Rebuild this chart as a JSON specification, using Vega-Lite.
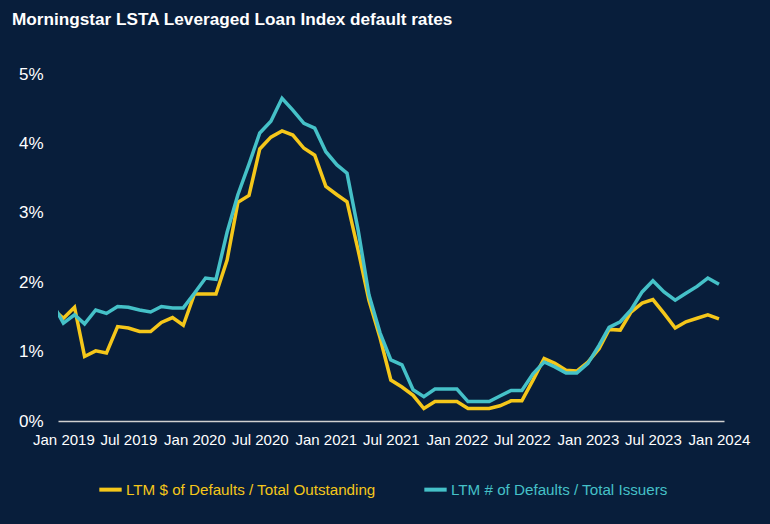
{
  "$schema": "https://vega.github.io/schema/vega-lite/v6.json",
  "width": 666,
  "height": 347,
  "autosize": {"type": "none"},
  "padding": {"left": 58, "top": 74, "right": 46, "bottom": 103},
  "background": "#081e3b",
  "title": {
    "text": "Morningstar LSTA Leveraged Loan Index default rates",
    "anchor": "start",
    "frame": "group",
    "orient": "top",
    "dx": -46,
    "offset": 37,
    "color": "#ffffff",
    "fontSize": 17.2,
    "fontWeight": "bold",
    "font": "Liberation Sans, Arial, sans-serif"
  },
  "config": {
    "view": {"stroke": null},
    "font": "Liberation Sans, Arial, sans-serif"
  },
  "data": {
    "values": [
      {"date": "2018-12-01", "dollar": 1.62, "issuer": 1.70},
      {"date": "2019-01-01", "dollar": 1.48, "issuer": 1.41},
      {"date": "2019-02-01", "dollar": 1.64, "issuer": 1.53},
      {"date": "2019-03-01", "dollar": 0.93, "issuer": 1.40},
      {"date": "2019-04-01", "dollar": 1.01, "issuer": 1.60},
      {"date": "2019-05-01", "dollar": 0.98, "issuer": 1.55},
      {"date": "2019-06-01", "dollar": 1.36, "issuer": 1.65},
      {"date": "2019-07-01", "dollar": 1.34, "issuer": 1.64},
      {"date": "2019-08-01", "dollar": 1.29, "issuer": 1.60},
      {"date": "2019-09-01", "dollar": 1.29, "issuer": 1.57},
      {"date": "2019-10-01", "dollar": 1.42, "issuer": 1.65},
      {"date": "2019-11-01", "dollar": 1.49, "issuer": 1.63},
      {"date": "2019-12-01", "dollar": 1.38, "issuer": 1.63},
      {"date": "2020-01-01", "dollar": 1.83, "issuer": 1.84},
      {"date": "2020-02-01", "dollar": 1.83, "issuer": 2.06},
      {"date": "2020-03-01", "dollar": 1.83, "issuer": 2.04},
      {"date": "2020-04-01", "dollar": 2.32, "issuer": 2.72},
      {"date": "2020-05-01", "dollar": 3.15, "issuer": 3.26},
      {"date": "2020-06-01", "dollar": 3.25, "issuer": 3.70},
      {"date": "2020-07-01", "dollar": 3.92, "issuer": 4.15},
      {"date": "2020-08-01", "dollar": 4.09, "issuer": 4.32},
      {"date": "2020-09-01", "dollar": 4.18, "issuer": 4.65},
      {"date": "2020-10-01", "dollar": 4.12, "issuer": 4.48},
      {"date": "2020-11-01", "dollar": 3.93, "issuer": 4.29},
      {"date": "2020-12-01", "dollar": 3.83, "issuer": 4.22},
      {"date": "2021-01-01", "dollar": 3.38, "issuer": 3.88},
      {"date": "2021-02-01", "dollar": 3.26, "issuer": 3.69},
      {"date": "2021-03-01", "dollar": 3.16, "issuer": 3.57},
      {"date": "2021-04-01", "dollar": 2.46, "issuer": 2.75},
      {"date": "2021-05-01", "dollar": 1.74, "issuer": 1.82},
      {"date": "2021-06-01", "dollar": 1.20, "issuer": 1.27},
      {"date": "2021-07-01", "dollar": 0.59, "issuer": 0.88},
      {"date": "2021-08-01", "dollar": 0.49, "issuer": 0.81},
      {"date": "2021-09-01", "dollar": 0.37, "issuer": 0.45},
      {"date": "2021-10-01", "dollar": 0.18, "issuer": 0.35},
      {"date": "2021-11-01", "dollar": 0.28, "issuer": 0.46},
      {"date": "2021-12-01", "dollar": 0.28, "issuer": 0.46},
      {"date": "2022-01-01", "dollar": 0.28, "issuer": 0.46},
      {"date": "2022-02-01", "dollar": 0.18, "issuer": 0.28},
      {"date": "2022-03-01", "dollar": 0.18, "issuer": 0.28},
      {"date": "2022-04-01", "dollar": 0.18, "issuer": 0.28},
      {"date": "2022-05-01", "dollar": 0.22, "issuer": 0.36},
      {"date": "2022-06-01", "dollar": 0.29, "issuer": 0.44},
      {"date": "2022-07-01", "dollar": 0.29, "issuer": 0.44},
      {"date": "2022-08-01", "dollar": 0.59, "issuer": 0.68},
      {"date": "2022-09-01", "dollar": 0.90, "issuer": 0.85},
      {"date": "2022-10-01", "dollar": 0.83, "issuer": 0.78},
      {"date": "2022-11-01", "dollar": 0.73, "issuer": 0.69},
      {"date": "2022-12-01", "dollar": 0.72, "issuer": 0.69},
      {"date": "2023-01-01", "dollar": 0.85, "issuer": 0.83},
      {"date": "2023-02-01", "dollar": 1.04, "issuer": 1.09},
      {"date": "2023-03-01", "dollar": 1.32, "issuer": 1.35},
      {"date": "2023-04-01", "dollar": 1.31, "issuer": 1.43},
      {"date": "2023-05-01", "dollar": 1.57, "issuer": 1.60},
      {"date": "2023-06-01", "dollar": 1.70, "issuer": 1.86},
      {"date": "2023-07-01", "dollar": 1.75, "issuer": 2.02},
      {"date": "2023-08-01", "dollar": 1.55, "issuer": 1.86},
      {"date": "2023-09-01", "dollar": 1.34, "issuer": 1.74},
      {"date": "2023-10-01", "dollar": 1.43, "issuer": 1.84},
      {"date": "2023-11-01", "dollar": 1.48, "issuer": 1.94},
      {"date": "2023-12-01", "dollar": 1.53, "issuer": 2.06},
      {"date": "2024-01-01", "dollar": 1.47, "issuer": 1.97}
    ]
  },
  "transform": [
    {"fold": ["dollar", "issuer"], "as": ["series", "rate"]}
  ],
  "mark": {"type": "line", "strokeWidth": 3.5, "clip": true, "strokeJoin": "miter"},
  "encoding": {
    "x": {
      "field": "date",
      "type": "temporal",
      "scale": {
        "type": "utc",
        "domain": [
          {"year": 2018, "month": 12, "date": 17, "utc": true},
          {"year": 2024, "month": 1, "date": 15, "utc": true}
        ]
      },
      "axis": {
        "title": null,
        "format": "%b %Y",
        "tickCount": {"interval": "month", "step": 6},
        "labelOverlap": false,
        "labelFlush": false,
        "labelFontSize": 15,
        "labelColor": "#ffffff",
        "labelPadding": 11,
        "ticks": false,
        "grid": false,
        "domainColor": "#d0d0d0",
        "domainWidth": 1.5
      }
    },
    "y": {
      "field": "rate",
      "type": "quantitative",
      "scale": {"domain": [0, 5], "nice": false, "zero": true},
      "axis": {
        "title": null,
        "values": [0, 1, 2, 3, 4, 5],
        "labelExpr": "datum.value + '%'",
        "labelFontSize": 17,
        "labelColor": "#ffffff",
        "labelPadding": 15,
        "grid": false,
        "domain": false,
        "ticks": false
      }
    },
    "color": {
      "field": "series",
      "type": "nominal",
      "scale": {"domain": ["dollar", "issuer"], "range": ["#f5c71a", "#45c1c8"]},
      "legend": {
        "title": null,
        "orient": "none",
        "legendX": 39,
        "legendY": 402,
        "direction": "horizontal",
        "columnPadding": 40,
        "symbolType": "stroke",
        "symbolStrokeWidth": 4,
        "symbolSize": 500,
        "labelOffset": 2,
        "labelFontSize": 15.2,
        "labelLimit": 400,
        "labelExpr": "datum.label == 'dollar' ? 'LTM $ of Defaults / Total Outstanding' : 'LTM # of Defaults / Total Issuers'",
        "encode": {
          "labels": {"update": {"fill": {"signal": "scale('color', datum.value)"}}}
        }
      }
    }
  }
}
